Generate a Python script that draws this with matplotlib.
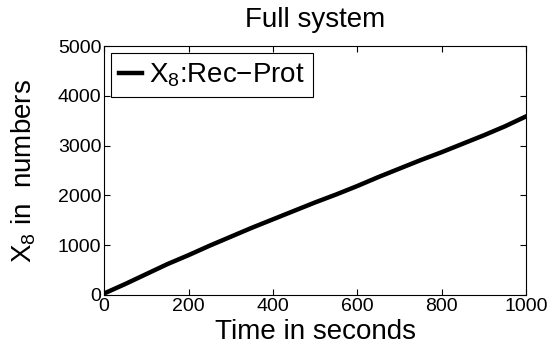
import numpy as np
import matplotlib.pyplot as plt

plt.rcParams['font.family'] = ['Liberation Sans', 'DejaVu Sans']
plt.rcParams['mathtext.fontset'] = 'custom'
plt.rcParams['mathtext.rm'] = 'Liberation Sans'
plt.rcParams['mathtext.it'] = 'Liberation Sans'

# dane
czas = [0, 50, 100, 150, 200, 250, 300, 350, 400, 450, 500,
        550, 600, 650, 700, 750, 800, 850, 900, 950, 1000]
x8 = [30, 220, 420, 620, 800, 990, 1170, 1350, 1520, 1690, 1860,
      2020, 2190, 2370, 2540, 2710, 2870, 3040, 3210, 3390, 3590]

fig = plt.figure(figsize=(5.51, 3.47), dpi=100)
ax = fig.add_axes([0.189, 0.150, 0.766, 0.717])
ax.plot(czas, x8, color='black', linewidth=3.2, label='X$_8$:Rec\u2212Prot')

ax.set_xlim(0, 1000)
ax.set_ylim(0, 5000)
ax.set_xticks(np.arange(0, 1001, 200))
ax.set_yticks(np.arange(0, 5001, 1000))
ax.tick_params(direction='in', top=True, right=True, labelsize=14, length=4, pad=2)
for s in ax.spines.values():
    s.set_linewidth(0.8)

ax.set_title('Full system', fontsize=20, pad=14)
ax.set_xlabel('Time in seconds', fontsize=20, labelpad=3)
ax.set_ylabel('X$_8$ in  numbers', fontsize=20, labelpad=14)

leg = ax.legend(loc='upper left', fontsize=20, handlelength=0.8, handletextpad=0.25,
                borderpad=0.3, borderaxespad=0.25, fancybox=False, framealpha=1)
leg.get_frame().set_edgecolor('black')
leg.get_frame().set_linewidth(0.8)

fig.savefig('out.png', dpi=100)
